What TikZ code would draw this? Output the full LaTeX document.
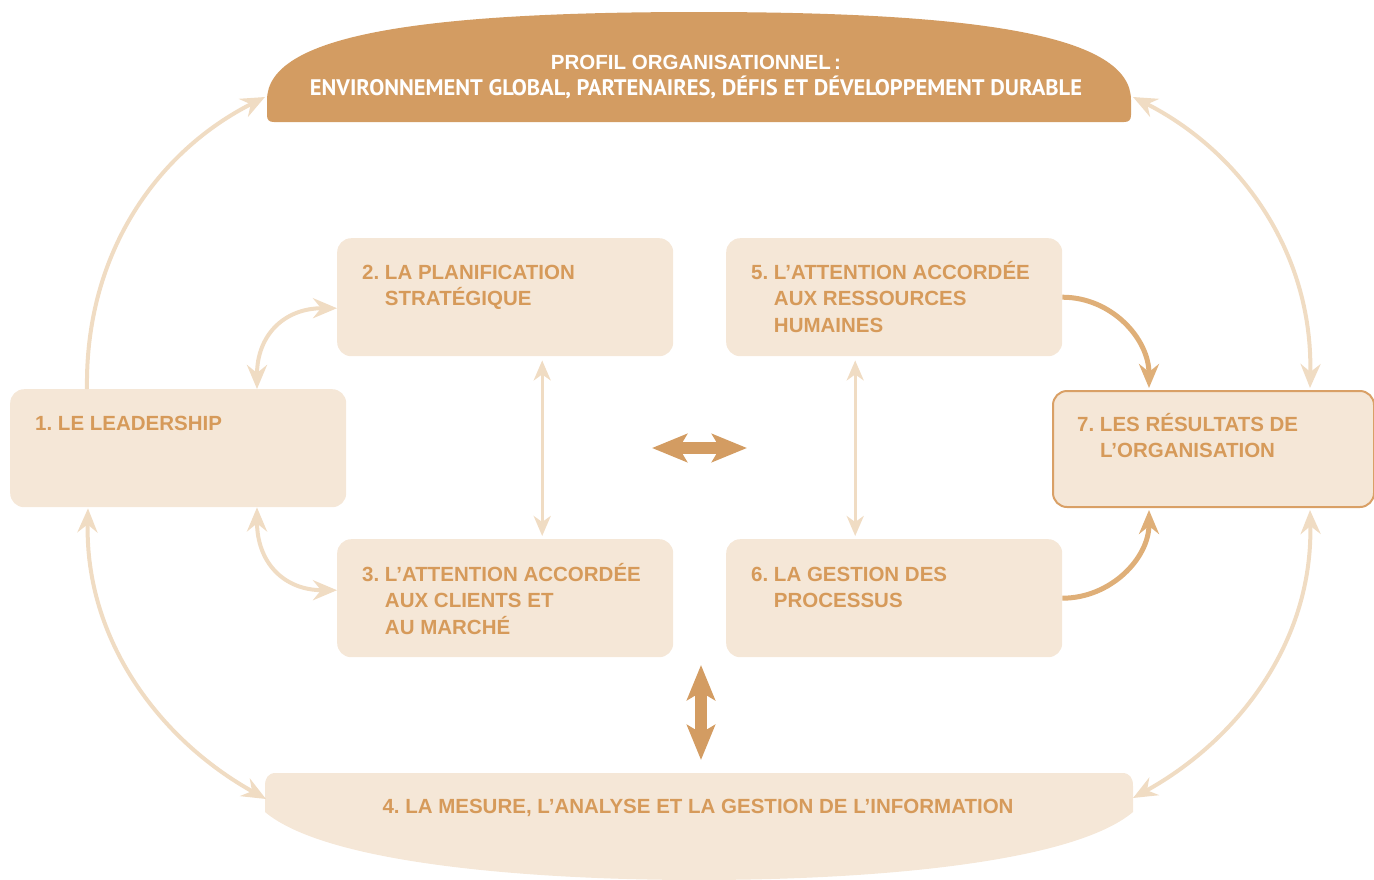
\documentclass[tikz,border=0pt]{standalone}
\usepackage{fontspec}
\setmainfont{Liberation Sans}
\newfontfamily\narrowfont{PT Sans}
\usetikzlibrary{arrows.meta,calc}
\definecolor{tanc}{HTML}{D39C62}
\definecolor{beige}{HTML}{F5E7D7}
\definecolor{txtc}{HTML}{D69A5A}
\definecolor{lightarr}{HTML}{F0DCC3}
\definecolor{midarr}{HTML}{DFAF78}
\definecolor{bord}{HTML}{D9A066}
\tikzset{
  lh/.tip={Stealth[length=24pt,width=20pt,inset=8pt]},
  sh/.tip={Stealth[length=20pt,width=17pt,inset=6pt]},
  bh/.tip={Stealth[length=35pt,width=28pt,inset=8pt]},
}
\begin{document}
\begin{tikzpicture}[x=1pt,y=-1pt,
  box/.style={fill=beige, rounded corners=14pt, minimum width=336pt, minimum height=118pt, anchor=north west, inner sep=0pt},
  lbl/.style={anchor=north west, inner sep=0pt, text=txtc, font=\fontsize{20.5}{26.5}\selectfont\bfseries},
  larr/.style={draw=lightarr, line width=4pt},
  sarr/.style={draw=lightarr, line width=3.2pt},
  marr/.style={draw=midarr, line width=5pt},
  barr/.style={draw=tanc, line width=12pt},
]
\useasboundingbox (0,0) rectangle (1374,879);
% banner
\fill[tanc] (274,122) -- (1124,122) .. controls (1129,122) and (1131,120) .. (1131,115) -- (1131,100)
  .. controls (1131,35) and (978,12) .. (699,12) .. controls (420,12) and (267,35) .. (267,100)
  -- (267,115) .. controls (267,120) and (269,122) .. (274,122) -- cycle;
\node[anchor=base, inner sep=0pt, text=white, font=\fontsize{20.5}{26}\selectfont\bfseries] (prof1) at (696,69.5) {PROFIL ORGANISATIONNEL\,:};
\node[anchor=base, inner sep=0pt, text=white, font=\narrowfont\fontsize{22.5}{26}\selectfont\bfseries] (prof2) at (696,95.5) {ENVIRONNEMENT GLOBAL, PARTENAIRES, DÉFIS ET DÉVELOPPEMENT DURABLE};
\coordinate (profL) at (265,97);
\coordinate (profR) at (1133,97);
% bottom shape
\fill[beige] (276,773) -- (1122,773) .. controls (1130,773) and (1133,778) .. (1133,786) -- (1133,812)
  .. controls (1070,865) and (860,880) .. (699,880) .. controls (538,880) and (328,865) .. (265,812)
  -- (265,786) .. controls (265,778) and (268,773) .. (276,773) -- cycle;
\node[anchor=base, inner sep=0pt, text=txtc, font=\fontsize{20.5}{26}\selectfont\bfseries] (info) at (698,813.5) {4.~LA MESURE, L’ANALYSE ET LA GESTION DE L’INFORMATION};
\coordinate (botL) at (266,799);
\coordinate (botR) at (1133,798);
% boxes
\node[box] (b1) at (10,389) {};
\node[box] (b2) at (337,238) {};
\node[box] (b3) at (337,539) {};
\node[box] (b5) at (726,238) {};
\node[box] (b6) at (726,539) {};
\node[box, draw=bord, line width=2pt, minimum width=321pt, minimum height=116pt] (b7) at (1052,390) {};
% labels
\node[lbl] (t1) at ($(b1.north west)+(25,22.5)$) {\begin{tabular}{@{}l@{\ }l@{}}1. & LE LEADERSHIP\end{tabular}};
\node[lbl] (t2) at ($(b2.north west)+(25,22.5)$) {\begin{tabular}{@{}l@{\ }l@{}}2. & LA PLANIFICATION\\ & STRATÉGIQUE\end{tabular}};
\node[lbl] (t3) at ($(b3.north west)+(25,23.5)$) {\begin{tabular}{@{}l@{\ }l@{}}3. & L’ATTENTION ACCORDÉE\\ & AUX CLIENTS ET\\ & AU MARCHÉ\end{tabular}};
\node[lbl] (t5) at ($(b5.north west)+(25,22.5)$) {\begin{tabular}{@{}l@{\ }l@{}}5. & L’ATTENTION ACCORDÉE\\ & AUX RESSOURCES\\ & HUMAINES\end{tabular}};
\node[lbl] (t6) at ($(b6.north west)+(25,23.5)$) {\begin{tabular}{@{}l@{\ }l@{}}6. & LA GESTION DES\\ & PROCESSUS\end{tabular}};
\node[lbl] (t7) at ($(b7.north west)+(25,22.5)$) {\begin{tabular}{@{}l@{\ }l@{}}7. & LES RÉSULTATS DE\\ & L’ORGANISATION\end{tabular}};
% outer arcs
\draw[larr, -{lh}] ($(b1.north west)+(77,0)$) .. controls +(-2,-139) and +(-105,53) .. (profL);
\draw[larr, {lh}-{lh}] ($(b1.south west)+(78,1)$) .. controls +(-3,132) and +(-106,-59) .. (botL);
\draw[larr, {lh}-{lh}] (profR) .. controls +(105,53) and +(3,-138) .. ($(b7.north west)+(258,-2)$);
\draw[larr, {lh}-{lh}] ($(b7.south west)+(258,2)$) .. controls +(3,132) and +(105,-58) .. (botR);
% inner connectors
\draw[larr, {lh}-{lh}] ($(b1.north west)+(247,0)$) to[out=90,in=180,looseness=1.2] ($(b2.west)+(0,11)$);
\draw[larr, {lh}-{lh}] ($(b1.south west)+(247,0)$) to[out=-90,in=180,looseness=1.2] ($(b3.west)+(0,-8)$);
\draw[sarr, {sh}-{sh}] ($(b2.south)+(37,4)$) -- ($(b3.north)+(37,-3)$);
\draw[sarr, {sh}-{sh}] ($(b5.south)+(-39,4)$) -- ($(b6.north)+(-39,-3)$);
\draw[marr, -{lh}] (b5.east) to[out=0,in=90] ($(b7.north west)+(97,-2)$);
\draw[marr, -{lh}] (b6.east) to[out=0,in=-90] ($(b7.south west)+(97,2)$);
% central block arrows
\coordinate (hl) at (652,448);
\coordinate (hr) at (747,448);
\coordinate (vt) at (701,665);
\coordinate (vb) at (701,760);
\draw[barr, {bh}-{bh}] (hl) -- (hr);
\draw[barr, {bh}-{bh}] (vt) -- (vb);
\end{tikzpicture}
\end{document}
